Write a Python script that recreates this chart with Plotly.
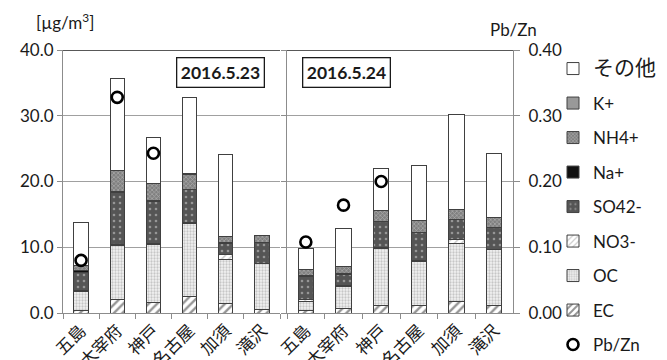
import plotly.graph_objects as go

sites = ["五島", "太宰府", "神戸", "名古屋", "加須", "滝沢"]
dates = ["2016.5.23", "2016.5.24"]
components = ["EC", "OC", "NO3-", "SO42-", "Na+", "NH4+", "K+", "その他"]

# component concentrations [µg/m3], day 1 (2016.5.23)
d1 = {
    "EC":    [0.45, 2.1, 1.6, 2.5, 1.4, 0.6],
    "OC":    [2.85, 8.2, 8.8, 11.1, 6.8, 6.9],
    "NO3-":  [0.05, 0.1, 0.2, 0.1, 0.7, 0.1],
    "SO42-": [2.85, 8.0, 6.4, 5.1, 1.7, 3.1],
    "Na+":   [0.3, 0.05, 0.05, 0.05, 0.05, 0.05],
    "NH4+":  [0.7, 3.2, 2.65, 2.25, 0.95, 1.0],
    "K+":    [0.0, 0.05, 0.05, 0.05, 0.05, 0.0],
    "その他": [6.5, 14.0, 7.0, 11.6, 12.45, 0.0],
}
# day 2 (2016.5.24)
d2 = {
    "EC":    [0.37, 0.7, 1.2, 1.2, 1.7, 1.2],
    "OC":    [1.45, 3.4, 8.65, 6.7, 8.9, 8.4],
    "NO3-":  [0.25, 0.1, 0.1, 0.15, 0.6, 0.1],
    "SO42-": [3.55, 1.7, 3.95, 4.2, 3.0, 3.3],
    "Na+":   [0.05, 0.05, 0.05, 0.05, 0.05, 0.05],
    "NH4+":  [0.95, 1.05, 1.65, 1.7, 1.55, 1.45],
    "K+":    [0.0, 0.0, 0.0, 0.0, 0.0, 0.0],
    "その他": [3.2, 5.9, 6.4, 8.4, 14.4, 9.8],
}
pbzn1 = [0.080, 0.328, 0.243, None, None, None]
pbzn2 = [0.108, 0.164, 0.200, None, None, None]

FONT = "Lato, 'Noto Sans CJK JP', sans-serif"
EDGE = "#404040"

styles = {
    "EC":    dict(color="white", pattern=dict(shape="/", fgcolor="#2a2a2a", bgcolor="white", size=6, solidity=0.4)),
    "OC":    dict(color="white", pattern=dict(shape=".", fgcolor="#9a9a9a", bgcolor="#f2f2f2", size=3, solidity=0.45)),
    "NO3-":  dict(color="white", pattern=dict(shape="/", fgcolor="#9a9a9a", bgcolor="white", size=5, solidity=0.3)),
    "SO42-": dict(color="#5a5a5a", pattern=dict(shape=".", fgcolor="#d8d8d8", bgcolor="#555555", size=6, solidity=0.15)),
    "Na+":   dict(color="#111111"),
    "NH4+":  dict(color="#888888", pattern=dict(shape="x", fgcolor="#d8d8d8", bgcolor="#808080", size=3, solidity=0.4)),
    "K+":    dict(color="#999999"),
    "その他": dict(color="white"),
}
ranks = {"その他": 1, "K+": 2, "NH4+": 3, "Na+": 4, "SO42-": 5, "NO3-": 6, "OC": 7, "EC": 8}

fig = go.Figure()
for panel, (data, xa, ya) in enumerate([(d1, "x", "y"), (d2, "x2", "y2")]):
    for comp in components:
        st = styles[comp]
        marker = dict(color=st["color"], line=dict(color=EDGE, width=1))
        if "pattern" in st:
            marker["pattern"] = st["pattern"]
        name = comp
        if comp == "その他":
            name = "<span style='font-size:21px'>その他</span>"
        fig.add_trace(go.Bar(
            x=sites, y=data[comp], name=name, marker=marker,
            xaxis=xa, yaxis=ya, showlegend=(panel == 0),
            legendgroup=comp, legendrank=ranks[comp],
        ))

sc = dict(mode="markers", marker=dict(symbol="circle-open", size=11, color="black",
                                      line=dict(width=2.6, color="black")))
fig.add_trace(go.Scatter(x=sites, y=pbzn1, name="Pb/Zn", xaxis="x", yaxis="y4",
                         showlegend=True, legendgroup="pbzn", legendrank=9, **sc))
fig.add_trace(go.Scatter(x=sites, y=pbzn2, name="Pb/Zn", xaxis="x2", yaxis="y3",
                         showlegend=False, legendgroup="pbzn", legendrank=9, **sc))

W, H = 667, 360
xd1 = [63 / W, 280 / W]
xd2 = [287 / W, 513 / W]
yd = [1 - 313 / H, 1 - 50 / H]

GRID = "#a0a0a0"
LINE = "#8c8c8c"
tickfont = dict(family=FONT, size=17, color="#1a1a1a")

xcommon = dict(type="category", tickangle=-45, tickson="boundaries", ticks="outside",
               ticklen=5, tickcolor=LINE, showline=True, linecolor=LINE, linewidth=1,
               tickfont=dict(family=FONT, size=17, color="#1a1a1a"), showgrid=False,
               automargin=False)
fig.update_layout(
    xaxis=dict(domain=xd1, anchor="y", **xcommon),
    xaxis2=dict(domain=xd2, anchor="y2", **xcommon),
    yaxis=dict(domain=yd, range=[0, 40], dtick=10, tickformat=".1f", anchor="x",
               showgrid=True, gridcolor=GRID, gridwidth=1, showline=True, linecolor=LINE,
               ticks="outside", ticklen=5, tickcolor=LINE, tickfont=tickfont, zeroline=False,
               automargin=False),
    yaxis2=dict(domain=yd, range=[0, 40], dtick=10, anchor="x2", showticklabels=False,
                showgrid=True, gridcolor=GRID, gridwidth=1, showline=True, linecolor=LINE,
                ticks="outside", ticklen=5, tickcolor=LINE, zeroline=False, automargin=False),
    yaxis3=dict(overlaying="y2", side="right", anchor="x2", range=[0, 0.4], dtick=0.1,
                tickformat=".2f", showgrid=False, showline=True, linecolor=LINE,
                ticks="outside", ticklen=6, tickcolor=LINE, tickfont=tickfont, zeroline=False,
                automargin=False, ticklabelstandoff=5),
    yaxis4=dict(overlaying="y", anchor="x", range=[0, 0.4], visible=False, automargin=False),
    barmode="stack", bargap=0.6,
    width=W, height=H,
    margin=dict(l=0, r=0, t=0, b=0, autoexpand=False),
    plot_bgcolor="white", paper_bgcolor="white",
    font=dict(family=FONT, size=17, color="#1a1a1a"),
    legend=dict(x=553 / W, y=1 - 51 / H, xanchor="left", yanchor="top",
                font=dict(family=FONT, size=17, color="#1a1a1a"),
                tracegroupgap=9.4, bgcolor="rgba(0,0,0,0)", itemwidth=30),
    showlegend=True,
)

for xr in ["x domain", "x2 domain"]:
    yr = "y" if xr == "x domain" else "y2"
    fig.add_shape(type="line", xref=xr, yref=yr, x0=0, x1=1, y0=40, y1=40,
                  line=dict(color="#202020", width=1.5))

for xr, txt, xc in [("x", dates[0], 220.5), ("x2", dates[1], 346.5)]:
    fig.add_annotation(xref="paper", yref="paper", x=xc / W, y=1 - 73 / H,
                       xanchor="center", yanchor="middle",
                       text="<b>" + txt + "</b>", showarrow=False,
                       font=dict(family=FONT, size=17.5, color="#1a1a1a"),
                       bordercolor="#1a1a1a", borderwidth=1.3, borderpad=3.5, bgcolor="white")

fig.add_annotation(xref="paper", yref="paper", x=65 / W, y=1 - 21 / H, text="[µg/m<sup>3</sup>]",
                   xanchor="center", yanchor="middle",
                   showarrow=False, font=dict(family=FONT, size=17, color="#1a1a1a"))
fig.add_annotation(xref="paper", yref="paper", x=513 / W, y=1 - 29 / H, text="Pb/Zn",
                   xanchor="center", yanchor="middle",
                   showarrow=False, font=dict(family=FONT, size=17, color="#1a1a1a"))

fig.write_html("out.html", post_script="document.body.style.margin='0px';",
               config={"displayModeBar": False})
